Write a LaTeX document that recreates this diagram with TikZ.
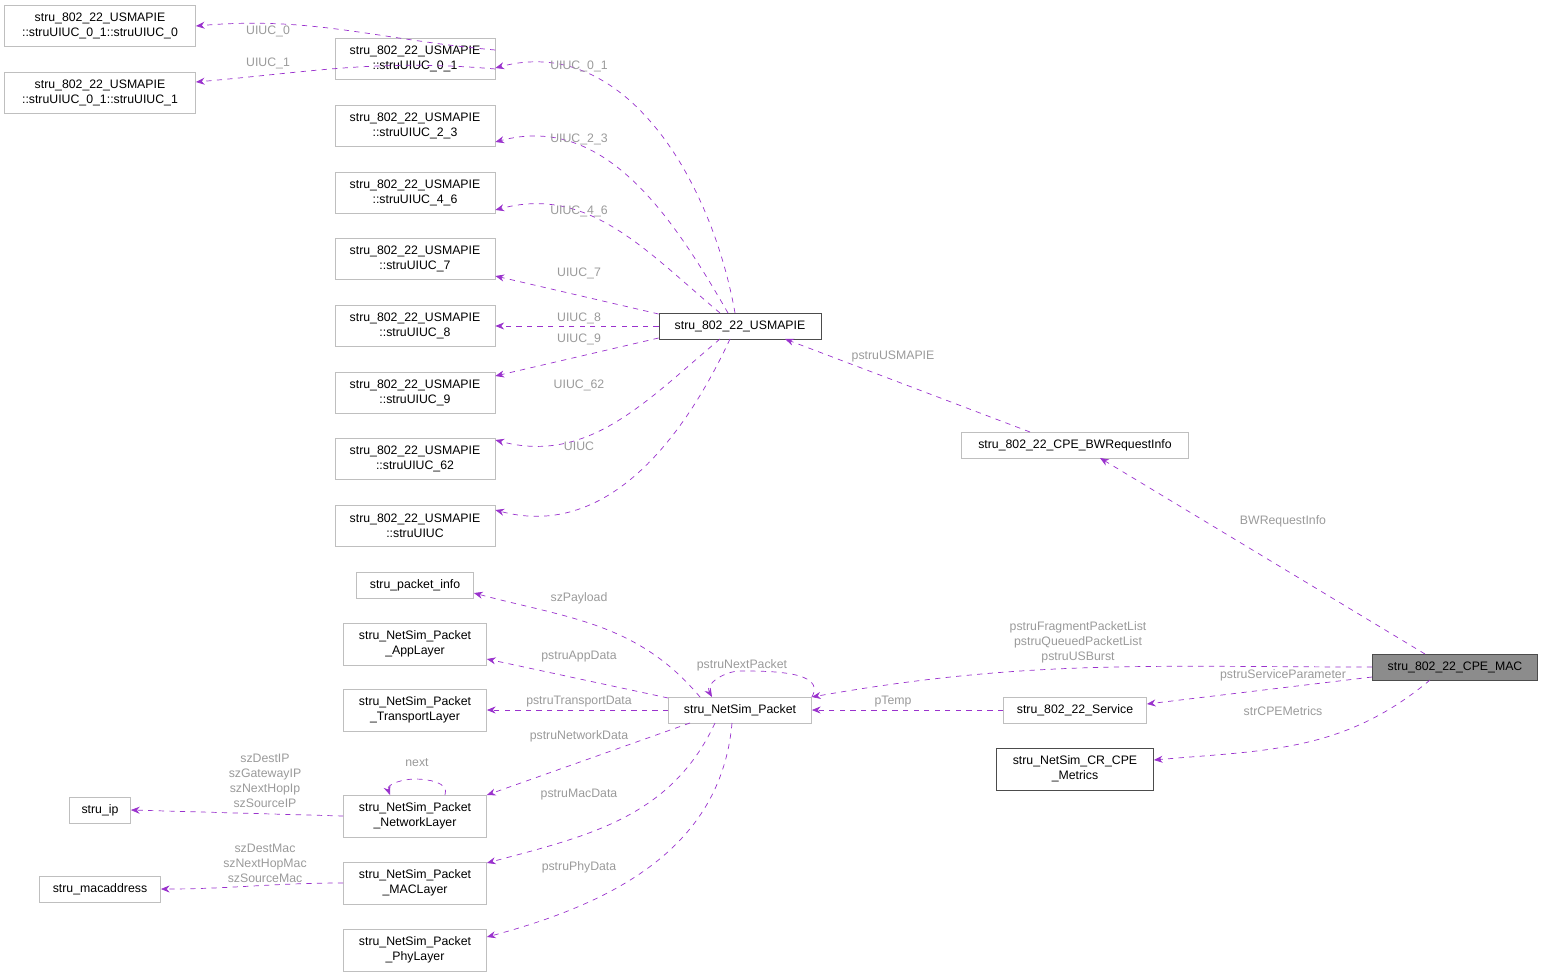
\documentclass[tikz,border=0pt]{standalone}
\usepackage{fontspec}
\setmainfont{Liberation Sans}
\usetikzlibrary{arrows.meta}
\definecolor{edgecol}{HTML}{9A32CD}
\definecolor{lblcol}{HTML}{9A9A9A}
\definecolor{boxcol}{HTML}{BFBFBF}
\tikzset{
  box/.style={draw=boxcol, fill=white, align=center, inner sep=1pt, font=\fontsize{7}{8.6}\selectfont},
  bold box/.style={box, draw=black!70},
  lbl/.style={text=lblcol, font=\fontsize{7}{8.6}\selectfont, align=center, inner sep=0pt},
  edge/.style={draw=edgecol, dashed, -{Stealth[length=5pt,width=4pt]}}
}
\begin{document}
\begin{tikzpicture}[x=0.02cm, y=-0.02cm]
\useasboundingbox (0,0) rectangle (1544,977);

% Strukturen oben links
\node[box, minimum width=191*0.02cm, minimum height=41*0.02cm] (uiuc0) at (100,26) {stru\_802\_22\_USMAPIE\\::struUIUC\_0\_1::struUIUC\_0};
\node[box, minimum width=191*0.02cm, minimum height=41*0.02cm] (uiuc1) at (100,93) {stru\_802\_22\_USMAPIE\\::struUIUC\_0\_1::struUIUC\_1};

\foreach \n/\t/\y in {u01/\_0\_1/59, u23/\_2\_3/126, u46/\_4\_6/193, u7/\_7/259, u8/\_8/326, u9/\_9/393, u62/\_62/459, u/{}/526}
  \node[box, minimum width=160*0.02cm, minimum height=41*0.02cm] (\n) at (415,\y) {stru\_802\_22\_USMAPIE\\::struUIUC\t};

\node[bold box, minimum width=162*0.02cm, minimum height=26*0.02cm] (usm) at (740,326) {stru\_802\_22\_USMAPIE};
\node[box, minimum width=227*0.02cm, minimum height=26*0.02cm] (bwr) at (1075,445) {stru\_802\_22\_CPE\_BWRequestInfo};
\node[box, draw=black!70, fill=black!45, minimum width=165*0.02cm, minimum height=26*0.02cm] (cpe) at (1455,667) {stru\_802\_22\_CPE\_MAC};
\node[box, minimum width=143*0.02cm, minimum height=26*0.02cm] (svc) at (1075,710) {stru\_802\_22\_Service};
\node[bold box, minimum width=157*0.02cm, minimum height=42*0.02cm] (met) at (1075,769) {stru\_NetSim\_CR\_CPE\\\_Metrics};

% Paket
\node[box, minimum width=143*0.02cm, minimum height=26*0.02cm] (pkt) at (740,710) {stru\_NetSim\_Packet};
\node[box, minimum width=117*0.02cm, minimum height=26*0.02cm] (pinfo) at (415,585) {stru\_packet\_info};
\foreach \n/\t/\y in {app/AppLayer/644, trn/TransportLayer/710, net/NetworkLayer/816, mac/MACLayer/883, phy/PhyLayer/950}
  \node[box, minimum width=143*0.02cm, minimum height=42*0.02cm] (\n) at (415,\y) {stru\_NetSim\_Packet\\\_\t};
\node[box, minimum width=61*0.02cm, minimum height=26*0.02cm] (ip) at (100,810) {stru\_ip};
\node[box, minimum width=121*0.02cm, minimum height=26*0.02cm] (maca) at (100,889) {stru\_macaddress};

% Kanten
\draw[edge] (u01.east |- 0,50) to[out=175,in=5] (uiuc0.east);
\draw[edge] (u01.east |- 0,69) to[out=175,in=5] (uiuc1.east |- 0,82);
\node[lbl] (l0) at (268,31) {UIUC\_0};
\node[lbl] (l1) at (268,63) {UIUC\_1};

\draw[edge] (735,313) to[out=100,in=15] (u01.east |- 0,68);
\draw[edge] (728,313) to[out=120,in=15] (u23.east |- 0,142);
\draw[edge] (720,313) to[out=140,in=15] (u46.east |- 0,210);
\draw[edge] (usm.west |- 0,314) -- (u7.east |- 0,276);
\draw[edge] (usm) -- (u8);
\draw[edge] (usm.west |- 0,338) -- (u9.east |- 0,376);
\draw[edge] (720,339) to[out=-140,in=-15] (u62.east |- 0,440);
\draw[edge] (730,339) to[out=-115,in=-15] (u.east |- 0,510);
\node[lbl] at (579,66) {UIUC\_0\_1};
\node[lbl] at (579,139) {UIUC\_2\_3};
\node[lbl] at (579,211) {UIUC\_4\_6};
\node[lbl] at (579,273) {UIUC\_7};
\node[lbl] at (579,318) {UIUC\_8};
\node[lbl] at (579,339) {UIUC\_9};
\node[lbl] at (579,385) {UIUC\_62};
\node[lbl] at (579,446) {UIUC};

\draw[edge] (1030,432) -- (785,339);
\node[lbl] at (893,356) {pstruUSMAPIE};
\draw[edge] (1425,654) -- (1100,458);
\node[lbl] at (1283,521) {BWRequestInfo};
\draw[edge] (cpe.west) to[out=180,in=10] (pkt.east |- 0,697);
\node[lbl] at (1078,642) {pstruFragmentPacketList\\pstruQueuedPacketList\\pstruUSBurst};
\draw[edge] (cpe.west |- 0,677) -- (svc.east |- 0,704);
\node[lbl] at (1283,675) {pstruServiceParameter};
\draw[edge] (1430,680) to[out=-140,in=5] (met.east |- 0,760);
\node[lbl] at (1283,711) {strCPEMetrics};
\draw[edge] (svc) -- (pkt);
\node[lbl] at (893,702) {pTemp};

\draw[edge] (pkt.north east |- 0,697) to[out=60,in=0] (740,671) to[out=180,in=120] (712,697);
\node[lbl] at (742,665) {pstruNextPacket};
\draw[edge] (700,697) to[out=130,in=-15] (pinfo.east |- 0,593);
\node[lbl] at (579,598) {szPayload};
\draw[edge] (pkt.west |- 0,698) -- (app.east |- 0,659);
\node[lbl] at (579,657) {pstruAppData};
\draw[edge] (pkt) -- (trn);
\node[lbl] at (579,702) {pstruTransportData};
\draw[edge] (690,723) -- (net.east |- 0,795);
\node[lbl] at (579,736) {pstruNetworkData};
\draw[edge] (715,723) to[out=-115,in=15] (mac.east |- 0,863);
\node[lbl] at (579,795) {pstruMacData};
\draw[edge] (732,723) to[out=-95,in=15] (phy.east |- 0,937);
\node[lbl] at (579,867) {pstruPhyData};

\draw[edge] (445,795) to[out=70,in=0] (415,779) to[out=180,in=110] (390,795);
\node[lbl] at (417,763) {next};
\draw[edge] (net.west) -- (ip.east);
\node[lbl] at (265,781) {szDestIP\\szGatewayIP\\szNextHopIp\\szSourceIP};
\draw[edge] (mac.west) to[out=180,in=0] (maca.east);
\node[lbl] at (265,863) {szDestMac\\szNextHopMac\\szSourceMac};
\end{tikzpicture}
\end{document}
